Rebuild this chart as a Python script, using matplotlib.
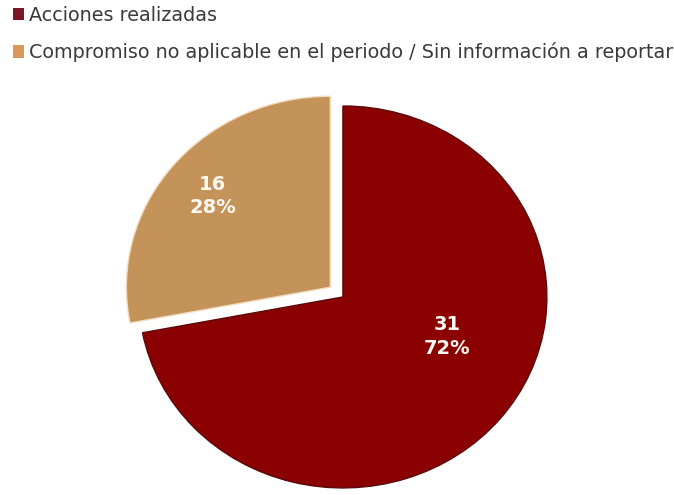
import numpy as np
import matplotlib.pyplot as plt
from matplotlib.patches import Patch

plt.rcParams["font.family"] = ["DejaVu Sans"]

# Estado de los compromisos
categorias = ["Acciones realizadas",
              "Compromiso no aplicable en el periodo / Sin información a reportar"]
conteos = [31, 16]
porcentajes = [72, 28]
colores = ["#8b0000", "#c39359"]

fig = plt.figure(figsize=(6.74, 4.95), dpi=100)
ax = fig.add_axes([0, 0, 1, 1])

# tan slice drawn first so it sits between 12 and ~9 o'clock
valores = porcentajes[::-1]
wedges, _ = ax.pie(valores, colors=colores[::-1], startangle=90,
                   counterclock=True, explode=[0.08, 0.0],
                   wedgeprops=dict(linewidth=1.0))
wedges[0].set_edgecolor("#f3dcc0")
wedges[1].set_edgecolor("#5a0a0a")

# the original graphic is a bit squashed vertically
ax.set_aspect("auto")
ax.set_xlim(-1.681, 1.623)
ax.set_ylim(-1.037, 1.555)
ax.axis("off")

# value labels: (angle in degrees, distance from centre)
pos_etiquetas = [(-22, 0.55), (140.4, 0.83)]
for i, (ang, dist) in enumerate(pos_etiquetas):
    r = np.deg2rad(ang)
    ax.text(dist * np.cos(r), dist * np.sin(r),
            f"{conteos[i]}\n{porcentajes[i]}%",
            ha="center", va="center", color="#fff8f0", fontsize=14,
            fontweight="bold", linespacing=1.3)

handles = [Patch(facecolor=c, edgecolor="none") for c in ["#7b1628", "#d9975a"]]
fig.legend(handles, categorias, loc="upper left", bbox_to_anchor=(0.002, 1.012),
           frameon=False, fontsize=13.8, handlelength=0.6, handleheight=0.6,
           handletextpad=0.25, labelspacing=0.92, labelcolor="#3a3a3a",
           borderaxespad=0.2)

fig.savefig("out.png", dpi=100, facecolor="white")
